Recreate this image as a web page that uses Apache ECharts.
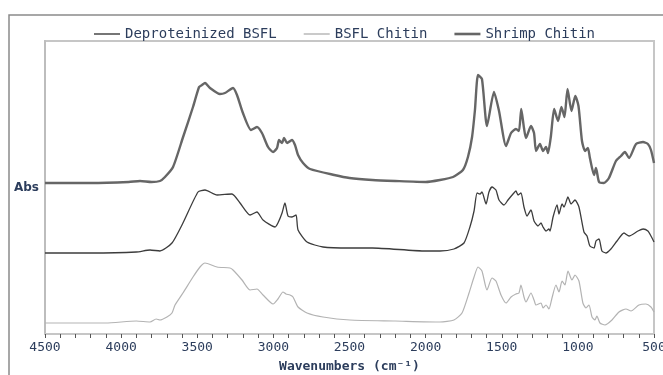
<!DOCTYPE html>
<html>
<head>
<meta charset="utf-8">
<script src="https://cdn.jsdelivr.net/npm/echarts@6/dist/echarts.min.js"></script>
<style>
  html, body { margin: 0; padding: 0; background: #fff; overflow: hidden; }
  #echarts { width: 663px; height: 375px; }
</style>
</head>
<body>
<div id="echarts"></div>
<script>
// wavenumbers (cm-1) and absorbance (arbitrary units, offset per trace)
const shrimpWn = [4500, 4200, 3950, 3876, 3800, 3745, 3712, 3659, 3593, 3528, 3488, 3469, 3449, 3416, 3351, 3318, 3265, 3239, 3200, 3147, 3108, 3075, 3035, 3002, 2976, 2963, 2943, 2930, 2910, 2878, 2858, 2838, 2805, 2759, 2600, 2500, 2350, 2200, 2000, 1906, 1820, 1755, 1722, 1695, 1676, 1656, 1630, 1597, 1551, 1518, 1472, 1439, 1407, 1387, 1372, 1354, 1341, 1308, 1288, 1275, 1249, 1229, 1209, 1196, 1177, 1156, 1130, 1108, 1088, 1068, 1042, 1017, 996, 973, 953, 934, 921, 894, 881, 861, 829, 796, 750, 717, 691, 664, 618, 572, 540, 520, 500];
const shrimpAbs = [151, 151, 152, 153, 152, 153, 157, 167, 197, 227, 247, 249, 251, 246, 240, 241, 246, 239, 221, 204, 207, 201, 187, 182, 186, 194, 191, 196, 191, 194, 189, 179, 171, 165, 159, 156, 154, 153, 152, 154, 157, 164, 177, 197, 224, 259, 255, 208, 242, 223, 188, 201, 205, 203, 225, 206, 196, 208, 201, 183, 190, 183, 187, 181, 198, 225, 213, 227, 217, 245, 223, 238, 228, 193, 183, 186, 176, 159, 166, 152, 151, 156, 173, 178, 182, 176, 190, 192, 190, 184, 171];

const deprotWn = [4500, 4200, 3900, 3810, 3745, 3666, 3594, 3495, 3449, 3370, 3272, 3219, 3153, 3108, 3068, 2989, 2970, 2943, 2924, 2904, 2878, 2851, 2838, 2779, 2674, 2497, 2350, 2000, 1906, 1814, 1748, 1709, 1682, 1662, 1643, 1630, 1603, 1584, 1564, 1538, 1518, 1485, 1459, 1426, 1407, 1393, 1374, 1354, 1334, 1308, 1288, 1262, 1242, 1229, 1209, 1190, 1183, 1163, 1137, 1124, 1104, 1091, 1065, 1045, 1019, 993, 960, 940, 921, 894, 881, 861, 842, 816, 783, 743, 697, 664, 605, 572, 540, 520, 500];
const deprotAbs = [81, 81, 82, 84, 83, 91, 111, 142, 144, 139, 140, 131, 119, 122, 114, 107, 111, 121, 131, 118, 117, 119, 104, 92, 87, 86, 86, 83, 83, 85, 91, 107, 123, 141, 140, 142, 130, 142, 147, 144, 134, 129, 134, 140, 143, 139, 141, 127, 118, 124, 113, 108, 111, 107, 103, 105, 103, 117, 129, 120, 130, 127, 137, 130, 134, 127, 102, 98, 88, 86, 93, 95, 83, 81, 85, 93, 101, 98, 103, 105, 103, 98, 92];

const bsflWn = [4500, 4100, 3900, 3810, 3770, 3745, 3699, 3666, 3646, 3594, 3528, 3482, 3449, 3370, 3285, 3265, 3206, 3153, 3108, 3068, 3002, 2970, 2937, 2917, 2891, 2871, 2838, 2779, 2674, 2497, 2200, 1906, 1814, 1761, 1715, 1682, 1656, 1630, 1597, 1564, 1538, 1505, 1472, 1439, 1407, 1387, 1374, 1354, 1341, 1308, 1288, 1275, 1242, 1229, 1209, 1190, 1170, 1144, 1124, 1104, 1085, 1065, 1039, 1019, 993, 967, 947, 927, 907, 888, 875, 855, 822, 776, 730, 684, 651, 599, 553, 520, 500];
const bsflAbs = [11, 11, 13, 12, 15, 14, 17, 21, 29, 41, 57, 67, 71, 67, 66, 64, 54, 44, 45, 39, 30, 35, 42, 40, 39, 37, 27, 21, 17, 14, 13, 12, 14, 21, 41, 57, 67, 63, 44, 56, 53, 39, 31, 37, 40, 41, 49, 37, 32, 41, 34, 29, 31, 26, 29, 25, 36, 49, 42, 53, 49, 63, 54, 59, 53, 31, 26, 29, 17, 14, 18, 11, 9, 14, 22, 25, 23, 29, 30, 27, 22];

const xTicks = [4500, 4000, 3500, 3000, 2500, 2000, 1500, 1000, 500];

const navy = '#2c3d5c';
const pairs = (wn, ab) => wn.map((w, i) => [w, ab[i]]);
// flat line icons for the legend, thicker one for shrimp
const thinIcon = 'path://M0,0h26v1.4h-26z';
const thickIcon = 'path://M0,0h26v2.6h-26z';

let myChart = echarts.init(document.getElementById('echarts'));
let option = {
  animation: false,
  graphic: [
    {
      // outer frame
      type: 'rect',
      shape: { x: 9, y: 15, width: 760, height: 420 },
      style: { fill: 'none', stroke: '#8a8a8a', lineWidth: 1.5 },
      silent: true,
    },
  ],
  legend: {
    top: 22,
    left: 89,
    itemWidth: 26,
    itemHeight: 10,
    itemGap: 27,
    textStyle: { fontFamily: 'DejaVu Sans Mono', fontSize: 14, color: navy },
    data: [
      { name: 'Deproteinized BSFL', icon: thinIcon },
      { name: 'BSFL Chitin', icon: thinIcon },
      { name: 'Shrimp Chitin', icon: thickIcon },
    ],
  },
  grid: {
    left: 45,
    right: 9,
    top: 41,
    bottom: 41,
    outerBoundsMode: 'none',
    containLabel: false,
    show: true,
    borderColor: '#c6c6c6',
    borderWidth: 2,
  },
  xAxis: {
    type: 'value',
    inverse: true,
    min: 500,
    max: 4500,
    interval: 500,
    name: 'Wavenumbers (cm⁻¹)',
    nameLocation: 'middle',
    nameGap: 26,
    nameTextStyle: { fontFamily: 'DejaVu Sans Mono', fontSize: 13, fontWeight: 'bold', color: navy },
    axisLine: { lineStyle: { color: '#c6c6c6', width: 2 } },
    axisTick: { show: true, length: 4, lineStyle: { color: '#555' } },
    minorTick: { show: true, splitNumber: 5, length: 4, lineStyle: { color: '#555' } },
    splitLine: { show: false },
    axisLabel: {
      margin: 7,
      fontFamily: 'DejaVu Sans Mono',
      fontSize: 13,
      color: navy,
      showMinLabel: true,
      showMaxLabel: true,
      hideOverlap: false,
      formatter: (v) => (xTicks.includes(v) ? String(v) : ''),
    },
  },
  yAxis: {
    type: 'value',
    min: 0,
    max: 293,
    name: 'Abs',
    nameLocation: 'middle',
    nameRotate: 0,
    nameGap: 6,
    nameTextStyle: { fontFamily: 'DejaVu Sans', fontSize: 12, fontWeight: 'bold', color: navy, align: 'right' },
    axisLine: { show: true, lineStyle: { color: '#bdbdbd', width: 2 } },
    axisTick: { show: false },
    axisLabel: { show: false },
    splitLine: { show: false },
  },
  series: [
    {
      name: 'Deproteinized BSFL',
      type: 'line',
      showSymbol: false,
      symbol: 'none',
      smooth: 0.2,
      color: '#3c3c3c',
      lineStyle: { width: 1.3, color: '#3c3c3c' },
      data: pairs(deprotWn, deprotAbs),
    },
    {
      name: 'BSFL Chitin',
      type: 'line',
      showSymbol: false,
      symbol: 'none',
      smooth: 0.2,
      color: '#b3b3b3',
      lineStyle: { width: 1.2, color: '#b3b3b3' },
      data: pairs(bsflWn, bsflAbs),
    },
    {
      name: 'Shrimp Chitin',
      type: 'line',
      showSymbol: false,
      symbol: 'none',
      smooth: 0.2,
      color: '#666666',
      lineStyle: { width: 2.4, color: '#666666' },
      data: pairs(shrimpWn, shrimpAbs),
    },
  ],
};
myChart.setOption(option);
</script>
</body>
</html>
